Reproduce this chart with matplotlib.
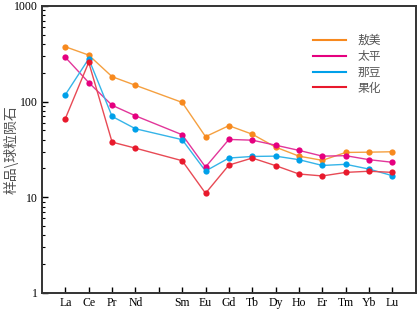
import numpy as np
import matplotlib
matplotlib.use("Agg")
import matplotlib.pyplot as plt
from matplotlib.ticker import LogLocator, FixedLocator, NullFormatter

plt.rcParams['font.family'] = ['Liberation Serif', 'Noto Sans CJK SC']

# REE names, Pm left blank
elements = ['La', 'Ce', 'Pr', 'Nd', '', 'Sm', 'Eu', 'Gd', 'Tb', 'Dy', 'Ho', 'Er', 'Tm', 'Yb', 'Lu']
pos = [0, 1, 2, 3, 5, 6, 7, 8, 9, 10, 11, 12, 13, 14]

aomei = [374, 306, 182, 148, 98, 43, 56, 45.6, 33.4, 26.9, 24.3, 29.4, 29.6, 29.9]
taiping = [290, 158, 91.5, 71, 45, 20.7, 40.2, 39.5, 35, 30.9, 26.9, 27.2, 24.7, 23.2]
nadou = [118, 280, 70, 52, 40, 18.8, 25.7, 26.7, 26.9, 24.7, 21.5, 22.1, 19.7, 16.8]
guohua = [66.5, 257, 37.7, 32.6, 24.1, 11, 21.7, 25.7, 21.4, 17.5, 16.7, 18.2, 18.7, 18.2]

names = ['敖美', '太平', '那豆', '果化']
series = [aomei, taiping, nadou, guohua]
line_colors = ['#F5A040', '#E2369A', '#35B4E8', '#E84A55']
dot_colors = ['#F7891E', '#E5007F', '#00A0E9', '#E8192C']

fig = plt.figure(figsize=(4.2, 3.1), dpi=100)
ax = fig.add_axes([0.1, 0.055, 0.89, 0.926])

for s, lc, dc, nm in zip(series, line_colors, dot_colors, names):
    ax.plot(pos, s, color=lc, lw=1.0, zorder=2)
    ax.plot(pos, s, 'o', color=dc, ms=4.5, mec='none', zorder=3)
    ax.plot([], [], color=dc, lw=1.5, label=nm)

ax.set_yscale('log')
ax.set_ylim(1, 1000)
ax.set_xlim(-1, 15)
ax.set_xticks(range(15))
ax.set_xticklabels(elements, fontsize=8.5)
ax.yaxis.set_major_locator(FixedLocator([1, 10, 100, 1000]))
ax.set_yticklabels(['1', '10', '100', '1000'], fontsize=8.5)
ax.yaxis.set_minor_locator(LogLocator(base=10, subs=np.arange(2, 10)))
ax.yaxis.set_minor_formatter(NullFormatter())
ax.tick_params(axis='both', which='major', direction='in', length=4, width=1, pad=3)
ax.tick_params(axis='y', which='minor', direction='in', length=2.5, width=0.8)
for sp in ax.spines.values():
    sp.set_linewidth(1.4)
    sp.set_color('#333333')

ax.set_ylabel('样品\\球粒陨石', fontsize=10, color='#555555', family=['Noto Sans CJK SC'])
ax.yaxis.set_label_coords(-0.062, 0.5)

leg = ax.legend(loc='upper right', bbox_to_anchor=(0.935, 0.94), frameon=False,
                prop={'family': 'Noto Sans CJK SC', 'size': 8.5},
                handlelength=2.8, handletextpad=1.0, labelspacing=0.25)
for t in leg.get_texts():
    t.set_color('#555555')

fig.savefig('out.png', dpi=100)
